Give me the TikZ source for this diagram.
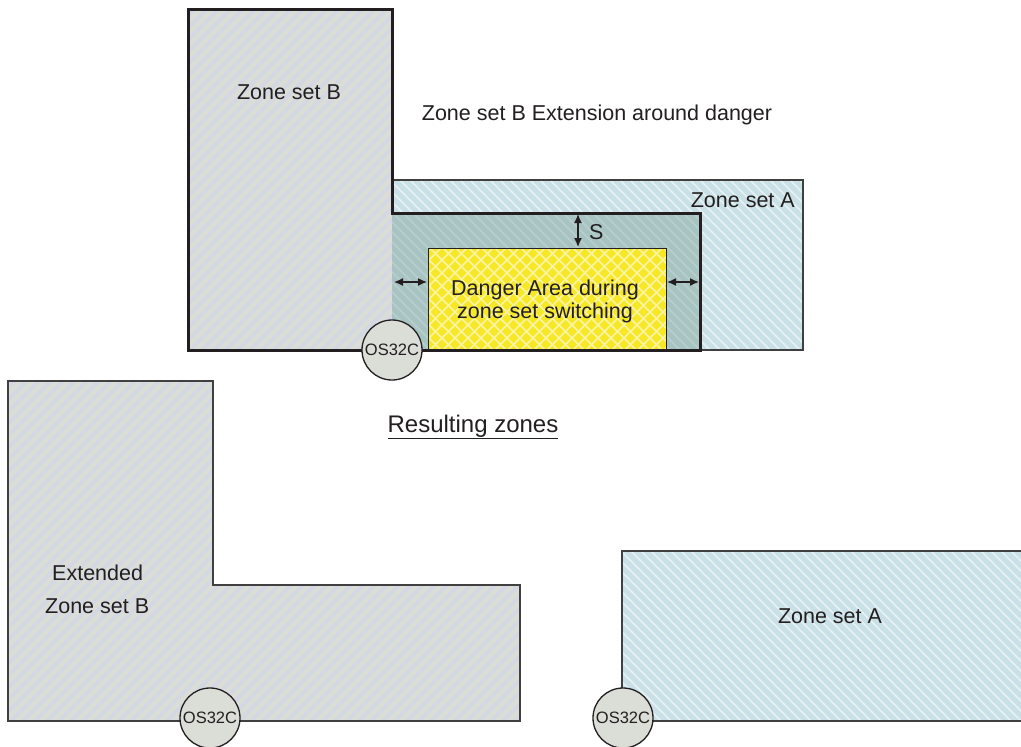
\documentclass[tikz,border=0pt]{standalone}
\usepackage{fontspec}
\setmainfont{Liberation Sans}
\usetikzlibrary{arrows.meta}
\definecolor{txt}{HTML}{231F20}
\definecolor{edge}{HTML}{404040}
\definecolor{bfill}{HTML}{DBDED7}
\definecolor{bstripe}{HTML}{D4D8E3}
\definecolor{afill}{HTML}{C8E0E6}
\definecolor{astripe}{HTML}{E8F2F5}
\definecolor{efill}{HTML}{A8C4C2}
\definecolor{estripe}{HTML}{B7D0CE}
\definecolor{dfill}{HTML}{F7E827}
\definecolor{dstripe}{HTML}{FBF3A6}
\newcommand\hatchne[3]{\foreach \k in {0,...,170}{\draw[#1,line width=#2] (\k*#3,0) -- ++(-760,760);}}
\newcommand\hatchnw[3]{\foreach \k in {0,...,190}{\draw[#1,line width=#2] (\k*#3-780,0) -- ++(760,760);}}
\tikzset{
  lbl/.style={font=\fontsize{21.5}{24}\selectfont, text=txt, inner sep=0pt, anchor=base},
  sensor/.style={circle, draw=txt, line width=1.3pt, fill=bfill, minimum size=60pt,
    inner sep=0pt, font=\fontsize{16.5}{19}\selectfont, text=txt},
  zoneedge/.style={draw=edge, line width=1.5pt},
  thickedge/.style={draw=txt, line width=3pt, line join=miter},
  dimarrow/.style={{Latex[length=9pt,width=8pt]}-{Latex[length=9pt,width=8pt]}, line width=1.4pt, draw=txt},
}
\begin{document}
\begin{tikzpicture}[x=1pt,y=-1pt]
\clip (0,0) rectangle (1021,747);
\fill[white] (0,0) rectangle (1021,747);

% ---------- top: zone set A ----------
\fill[afill] (392,180) rectangle (803,350);
\begin{scope}\clip (392,180) rectangle (803,350); \hatchnw{astripe}{1.6pt}{10}\end{scope}
\draw[draw=edge, line width=1.2pt] (392,180) rectangle (803,350);

% ---------- top: zone set B ----------
\fill[bfill] (188,9) rectangle (392,350);
\begin{scope}\clip (188,9) rectangle (392,350); \hatchne{bstripe}{4pt}{12}\end{scope}

% ---------- extension ----------
\fill[efill] (392,213) rectangle (700,350);
\begin{scope}\clip (392,213) rectangle (700,350); \hatchnw{estripe}{1.6pt}{10}\end{scope}

% ---------- danger area ----------
\fill[dfill] (428,248) rectangle (666,349);
\begin{scope}\clip (428,248) rectangle (666,349);
  \hatchnw{dstripe}{1.5pt}{13}\hatchne{dstripe}{1.5pt}{13}\end{scope}
\draw[draw=txt, line width=1pt] (428,248) rectangle (666,349);

% ---------- extended zone B outline ----------
\draw[thickedge] (188,9) -- (392,9) -- (392,213) -- (700,213) -- (700,350) -- (188,350) -- cycle;

% dimension arrows
\coordinate (st) at (578,214); \coordinate (sb) at (578,247);
\coordinate (la) at (394,282); \coordinate (lb) at (427,282);
\coordinate (ra) at (667,282); \coordinate (rb) at (699,282);
\draw[dimarrow] (st) -- (sb);
\draw[dimarrow] (la) -- (lb);
\draw[dimarrow] (ra) -- (rb);

% labels top
\node[lbl] (lzb) at (289,99) {Zone set B};
\node[lbl] (lext) at (597,120) {Zone set B Extension around danger};
\node[lbl, anchor=base east] (lza) at (795,207) {Zone set A};
\node[lbl, anchor=base west] (ls) at (589,239) {S};
\node[lbl] (ld1) at (545,295) {Danger Area during};
\node[lbl] (ld2) at (545,318) {zone set switching};
\node[sensor] (os1) at (392,350) {OS32C};

\node[lbl, font=\fontsize{24}{27}\selectfont] (lres) at (473,432) {\underline{Resulting zones}};

% ---------- bottom-left: extended zone set B ----------
\fill[bfill] (8,381) -- (213,381) -- (213,585) -- (520,585) -- (520,721) -- (8,721) -- cycle;
\begin{scope}\clip (8,381) -- (213,381) -- (213,585) -- (520,585) -- (520,721) -- (8,721) -- cycle;
  \hatchne{bstripe}{4pt}{12}\end{scope}
\draw[zoneedge] (8,381) -- (213,381) -- (213,585) -- (520,585) -- (520,721) -- (8,721) -- cycle;
\node[lbl, anchor=base west] (lext1) at (52,580) {Extended};
\node[lbl, anchor=base west] (lext2) at (45,613) {Zone set B};
\node[sensor] (os2) at (210,718) {OS32C};

% ---------- bottom-right: zone set A ----------
\fill[afill] (622,551) rectangle (1030,721);
\begin{scope}\clip (622,551) rectangle (1030,721); \hatchnw{astripe}{1.6pt}{10}\end{scope}
\draw[zoneedge] (622,551) rectangle (1030,721);
\node[lbl] (lza2) at (830,623) {Zone set A};
\node[sensor] (os3) at (623,718) {OS32C};
\end{tikzpicture}
\end{document}
